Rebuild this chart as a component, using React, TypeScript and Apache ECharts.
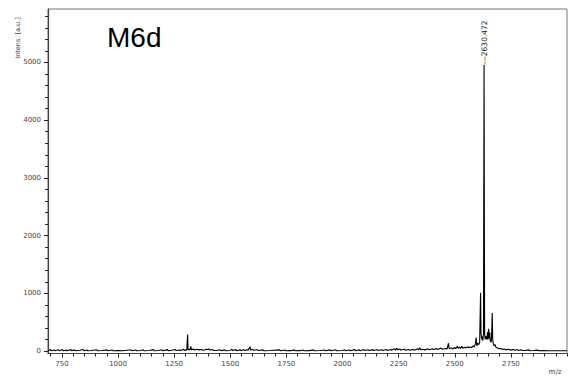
import React, { useEffect, useRef } from "react";
import * as echarts from "echarts";

// ---- axis ticks ----
const xMajorTicks = [750, 1000, 1250, 1500, 1750, 2000, 2250, 2500, 2750];
const xMinorTicks = [
  700, 800, 850, 900, 950, 1050, 1100, 1150, 1200, 1300, 1350, 1400, 1450,
  1550, 1600, 1650, 1700, 1800, 1850, 1900, 1950, 2050, 2100, 2150, 2200,
  2300, 2350, 2400, 2450, 2550, 2600, 2650, 2700, 2800, 2850, 2900, 2950, 3000,
];
const yMajorTicks = [0, 1000, 2000, 3000, 4000, 5000];
const yMinorTicks = [
  200, 400, 600, 800, 1200, 1400, 1600, 1800, 2200, 2400, 2600, 2800, 3200,
  3400, 3600, 3800, 4200, 4400, 4600, 4800, 5200, 5400, 5600, 5800,
];

// ---- spectrum traces [m/z, intensity] ----
const lowMassTrace: [number, number][] = [
  [688, 4], [690, 5], [700, 25], [702, 5], [715, 18], [718, 4], [735, 22], [738, 5],
  [752, 28], [755, 6], [770, 15], [772, 4], [790, 24], [793, 5], [805, 20], [808, 4],
  [830, 12], [845, 26], [848, 5], [862, 18], [865, 4], [880, 10], [905, 22], [908, 5],
  [930, 8], [950, 20], [953, 4], [975, 18], [978, 4], [1000, 6], [1020, 5], [1058, 22],
  [1061, 5], [1080, 18], [1083, 4], [1100, 8], [1112, 22], [1115, 5], [1140, 10],
  [1158, 24], [1161, 5], [1180, 10], [1195, 22], [1198, 5], [1220, 24], [1223, 6],
  [1240, 14], [1255, 26], [1258, 8], [1275, 18], [1278, 8], [1292, 30], [1295, 10],
  [1302, 20], [1306, 12],
];
const peak1310Trace: [number, number][] = [
  [1308, 15], [1310, 285], [1312, 20], [1316, 30], [1320, 15], [1324, 80], [1327, 20],
  [1335, 35], [1340, 18], [1350, 30], [1360, 20], [1372, 28], [1380, 15], [1395, 32],
  [1400, 25], [1405, 35], [1410, 15], [1420, 28], [1425, 10],
];
const midMassTrace: [number, number][] = [
  [1440, 8], [1455, 22], [1458, 5], [1475, 20], [1478, 5], [1500, 10], [1507, 32],
  [1510, 8], [1525, 24], [1528, 6], [1545, 20], [1548, 6], [1560, 25], [1563, 8],
  [1575, 20], [1580, 12], [1588, 75], [1591, 15], [1600, 30], [1605, 12], [1620, 25],
  [1625, 8], [1645, 20], [1650, 5], [1680, 8], [1720, 20], [1723, 4], [1745, 18],
  [1748, 4], [1770, 6], [1785, 20], [1788, 4], [1810, 6], [1825, 18], [1828, 4],
  [1850, 6], [1870, 20], [1873, 4], [1900, 8], [1920, 18], [1923, 4], [1945, 20],
  [1948, 5], [1970, 22], [1973, 5], [2000, 8], [2010, 22], [2013, 5], [2030, 18],
  [2033, 6], [2055, 24], [2058, 6], [2075, 20], [2078, 6], [2095, 26], [2098, 8],
  [2115, 22], [2118, 8], [2135, 24], [2138, 8], [2155, 26], [2158, 10], [2175, 22],
  [2180, 10], [2195, 26], [2200, 10],
];
const preClusterTrace: [number, number][] = [
  [2215, 28], [2218, 12], [2232, 40], [2236, 15], [2242, 50], [2246, 20], [2255, 35],
  [2260, 18], [2275, 30], [2280, 15], [2295, 25], [2300, 12], [2315, 28], [2320, 15],
  [2335, 40], [2338, 20], [2345, 55], [2348, 22], [2360, 30], [2368, 20], [2380, 38],
  [2385, 22], [2400, 40], [2405, 25], [2418, 45], [2422, 28], [2440, 50], [2445, 30],
  [2460, 45], [2466, 35], [2472, 135], [2475, 40], [2485, 55], [2490, 35], [2500, 60],
  [2504, 40], [2512, 85], [2515, 45], [2522, 70], [2526, 45], [2532, 80], [2536, 50],
  [2545, 65], [2550, 50], [2558, 75], [2562, 55], [2570, 70], [2575, 60], [2582, 90],
  [2586, 70], [2592, 120], [2595, 235], [2598, 90], [2603, 140], [2607, 110],
];
const clusterTrace: [number, number][] = [
  [2611, 150], [2613, 600], [2615, 1010], [2617, 300], [2620, 200], [2622, 250],
  [2625, 180], [2628, 300], [2630.472, 4960], [2633, 280], [2636, 200], [2640, 260],
  [2643, 200], [2646, 330], [2648, 200], [2651, 385], [2653, 220], [2656, 320],
  [2658, 180], [2662, 150], [2664, 250], [2667, 660], [2669, 200], [2672, 120],
  [2676, 90], [2680, 110], [2684, 60], [2690, 55], [2696, 40], [2705, 45], [2712, 30],
];
const tailTrace: [number, number][] = [
  [2720, 35], [2728, 20], [2740, 30], [2750, 15], [2762, 28], [2766, 12], [2778, 25],
  [2782, 10], [2795, 22], [2800, 8], [2815, 10], [2830, 20], [2833, 5], [2850, 8],
  [2870, 15], [2873, 4], [2890, 6], [2920, 5], [2950, 5], [2980, 4], [3000, 4],
];

const labelledPeak: [number, number] = [2630.472, 4960];
const labelledPeakText = "---2630.472";

const X_MIN = 688;
const X_MAX = 3000;
const Y_MIN = -43;
const Y_MAX = 5927;

const W = 571;
const H = 379;
const G_LEFT = 48;
const G_RIGHT = 4;
const G_TOP = 9;
const G_BOTTOM = 25.5;

const tickColor = "#222";
const tickFont = { fontFamily: "DejaVu Sans", fontSize: 7, color: "#444" };
const plain = (v: number) => String(v);

export default function App() {
  const ref = useRef<HTMLDivElement>(null);
  useEffect(() => {
    document.body.style.margin = "0";
    const chart = echarts.init(ref.current!, undefined, { renderer: "svg" });
    const spectrum = [
      ...lowMassTrace,
      ...peak1310Trace,
      ...midMassTrace,
      ...preClusterTrace,
      ...clusterTrace,
      ...tailTrace,
    ];
    const gridW = W - G_LEFT - G_RIGHT;
    const gridH = H - G_TOP - G_BOTTOM;
    chart.setOption({
      animation: false,
      backgroundColor: "#fff",
      grid: { left: G_LEFT, right: G_RIGHT, top: G_TOP, bottom: G_BOTTOM, show: true, borderColor: "#777", borderWidth: 1 },
      xAxis: [
        {
          type: "value",
          min: X_MIN,
          max: X_MAX,
          position: "bottom",
          axisLine: { show: true, onZero: false, lineStyle: { color: "#444", width: 1.2 } },
          axisTick: { show: true, customValues: xMajorTicks, length: 4, lineStyle: { color: tickColor, width: 1 } },
          axisLabel: { show: true, customValues: xMajorTicks, margin: 7, formatter: plain, ...tickFont },
          splitLine: { show: false },
        },
        {
          // minor ticks: placed on the "top" slot, shifted down onto the bottom edge
          type: "value",
          min: X_MIN,
          max: X_MAX,
          position: "top",
          offset: -gridH,
          axisLine: { show: false, onZero: false },
          axisTick: { show: true, inside: true, customValues: xMinorTicks, length: 3, lineStyle: { color: tickColor, width: 1 } },
          axisLabel: { show: false },
          splitLine: { show: false },
        },
      ],
      yAxis: [
        {
          type: "value",
          min: Y_MIN,
          max: Y_MAX,
          position: "left",
          axisLine: { show: true, onZero: false, lineStyle: { color: "#444", width: 1.2 } },
          axisTick: { show: true, customValues: yMajorTicks, length: 4, lineStyle: { color: tickColor, width: 1 } },
          axisLabel: { show: true, customValues: yMajorTicks, margin: 7, formatter: plain, ...tickFont },
          splitLine: { show: false },
        },
        {
          // minor ticks: placed on the "right" slot, shifted onto the left edge
          type: "value",
          min: Y_MIN,
          max: Y_MAX,
          position: "right",
          offset: -gridW,
          axisLine: { show: false, onZero: false },
          axisTick: { show: true, inside: true, customValues: yMinorTicks, length: 3, lineStyle: { color: tickColor, width: 1 } },
          axisLabel: { show: false },
          splitLine: { show: false },
        },
      ],
      series: [
        {
          type: "line",
          data: spectrum,
          showSymbol: false,
          symbol: "none",
          lineStyle: { color: "#000", width: 1.1 },
          markPoint: {
            symbol: "circle",
            symbolSize: 1,
            itemStyle: { color: "rgba(0,0,0,0)" },
            data: [{ coord: labelledPeak }],
            label: {
              show: true,
              position: "top",
              distance: 0,
              rotate: 90,
              align: "left",
              verticalAlign: "middle",
              formatter: labelledPeakText,
              fontFamily: "DejaVu Sans",
              fontSize: 7.5,
              color: "#222",
            },
          },
        },
      ],
      graphic: [
        {
          type: "text",
          x: 107,
          y: 37,
          style: { text: "M6d", fontFamily: "Liberation Sans", fontSize: 28, fill: "#000", verticalAlign: "middle", align: "left" },
        },
        {
          type: "text",
          x: 18,
          y: 38,
          rotation: Math.PI / 2,
          style: { text: "Intens. [a.u.]", fontFamily: "DejaVu Sans", fontSize: 6.5, fill: "#444", align: "center", verticalAlign: "middle" },
        },
        {
          type: "text",
          x: 555,
          y: 372,
          style: { text: "m/z", fontFamily: "DejaVu Sans", fontSize: 7, fill: "#444", align: "center", verticalAlign: "middle" },
        },
      ],
    });
    return () => chart.dispose();
  }, []);
  return <div ref={ref} style={{ position: "fixed", left: 0, top: 0, width: W, height: H }} />;
}
